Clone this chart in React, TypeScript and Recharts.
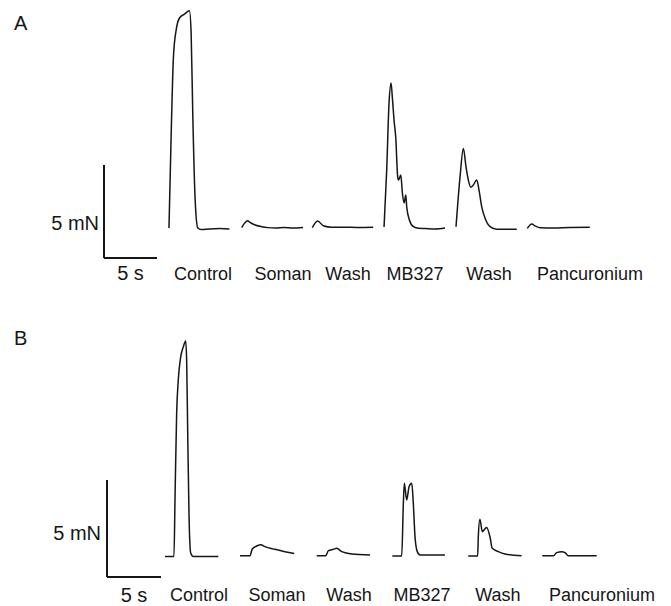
import { LineChart, Line, XAxis, YAxis, ReferenceLine } from "recharts";

const FONT = "'Liberation Sans', Arial, Helvetica, sans-serif";
const INK = "#161616";

// each trace: [time in s from trace start, force in mN above baseline]
const CONTROL_A = [[0, 0], [0.21, 5.1], [0.42, 9.19], [0.68, 10.65], [0.99, 11.29], [1.46, 11.5], [1.93, 11.68], [2.09, 10.48], [2.25, 5.97], [2.47, 1.5], [2.72, 0], [3.04, -0.08], [3.82, -0.05], [4.76, -0.03], [5.7, -0.05]];
const SOMAN_A = [[0, 0.02], [0.22, 0.22], [0.57, 0.39], [0.78, 0.3], [1.1, 0.2], [1.89, 0.07], [2.48, 0.02], [3.2, 0], [4.0, 0.03], [4.8, 0], [5.79, 0.03]];
const WASH1_A = [[0, 0.02], [0.51, 0.38], [1.04, 0.12], [1.83, 0.04], [3.0, 0.04], [4.2, 0.03], [5.75, 0.04]];
const MB327_A = [[0, 0.05], [0.25, 3.12], [0.47, 6.72], [0.66, 7.8], [0.78, 7.04], [0.94, 5.81], [1.1, 4.89], [1.29, 2.74], [1.37, 2.58], [1.58, 2.85], [1.73, 1.88], [1.89, 1.34], [2.05, 1.77], [2.14, 1.13], [2.39, 0.43], [2.77, 0.07], [3.24, -0.02], [3.87, -0.03], [4.81, -0.05], [5.75, 0]];
const WASH2_A = [[0, 0.07], [0.38, 2.76], [0.69, 4.28], [0.94, 3.3], [1.16, 2.58], [1.39, 2.19], [1.63, 2.31], [1.95, 2.58], [2.17, 2.04], [2.42, 1.15], [2.74, 0.52], [3.21, 0.07], [3.84, -0.07], [5.73, -0.07]];
const PANC_A = [[0, -0.02], [0.42, 0.22], [0.73, 0.11], [1.2, 0.02], [2.5, 0], [4.0, 0.03], [5.9, 0.04]];

const CONTROL_B = [[0, 0], [0.83, 0], [0.93, 3.07], [1.08, 7.4], [1.23, 9.1], [1.45, 10.28], [1.69, 10.8], [1.92, 11.11], [2.01, 9.97], [2.1, 6.52], [2.22, 2.24], [2.38, 0.18], [2.62, 0], [4.94, 0]];
const SOMAN_B = [[0, 0.04], [0.93, 0.04], [1.14, 0.39], [1.55, 0.54], [1.94, 0.61], [2.31, 0.51], [3.24, 0.37], [4.17, 0.25], [5.03, 0.16]];
const WASH1_B = [[0, 0.04], [0.83, 0.04], [1.08, 0.3], [1.54, 0.37], [1.85, 0.42], [2.32, 0.25], [3.24, 0.13], [4.94, 0.08]];
const MB327_B = [[0, 0.03], [0.87, 0.03], [1.02, 2.74], [1.11, 3.77], [1.33, 2.91], [1.55, 3.6], [1.8, 3.77], [1.94, 2.76], [2.1, 1.02], [2.31, 0.25], [2.56, 0.08], [4.87, 0.08]];
const WASH2_B = [[0, 0.03], [0.87, 0.03], [0.93, 1.02], [1.08, 1.92], [1.3, 1.28], [1.7, 1.5], [2.01, 1.02], [2.22, 0.42], [2.78, 0.25], [3.4, 0.13], [4.94, 0.04]];
const PANC_B = [[0, 0.04], [1.02, 0.04], [1.33, 0.2], [1.79, 0.25], [2.1, 0.2], [2.41, 0.04], [5.03, 0.04]];

const LABELS = ["Control", "Soman", "Wash", "MB327", "Wash", "Pancuronium"];

// where each trace starts and where its label sits (s from the scale bar corner)
const OFFSETS_A = [6.13, 12.99, 19.65, 26.42, 33.21, 39.93];
const OFFSETS_B = [5.37, 12.31, 19.42, 26.42, 33.45, 40.31];
const LABEL_X_A = [9.34, 16.89, 23.02, 29.34, 36.32, 45.85];
const LABEL_X_B = [8.52, 15.74, 22.41, 29.17, 36.2, 45.83];

const panels = [
  {
    letter: "A", traces: [CONTROL_A, SOMAN_A, WASH1_A, MB327_A, WASH2_A, PANC_A],
    offsets: OFFSETS_A, labelX: LABEL_X_A,
    h: 300, plotBottom: 260, originX: 104, baseY: 228, pxS: 10.6, pxMN: 18.6,
    barBottom: 258, tickMargin: 7, letterY: 30, mnDy: 11.5, mnOffset: 5, sOffset: 8,
  },
  {
    letter: "B", traces: [CONTROL_B, SOMAN_B, WASH1_B, MB327_B, WASH2_B, PANC_B],
    offsets: OFFSETS_B, labelX: LABEL_X_B,
    h: 306, plotBottom: 280, originX: 107, baseY: 256.5, pxS: 10.8, pxMN: 19.4,
    barBottom: 277, tickMargin: 8.6, letterY: 45, mnDy: 4.5, mnOffset: 6, sOffset: 11,
  },
];

const W = 671;

function Panel({ p }: { p: (typeof panels)[number] }) {
  const xDomain = [-p.originX / p.pxS, (W - p.originX) / p.pxS];
  const yDomain = [-(p.plotBottom - p.baseY) / p.pxMN, p.baseY / p.pxMN];
  const barLow = -(p.barBottom - p.baseY) / p.pxMN;

  return (
    <LineChart width={W} height={p.h} margin={{ top: 0, right: 0, bottom: 0, left: 0 }}>
      <XAxis
        type="number"
        dataKey="t"
        domain={xDomain}
        allowDataOverflow
        ticks={p.labelX}
        interval={0}
        tickFormatter={(_v: number, i: number) => LABELS[i]}
        axisLine={false}
        tickLine={false}
        tickSize={0}
        tickMargin={p.tickMargin}
        height={p.h - p.plotBottom}
        tick={{ fill: INK, fontSize: 18, fontFamily: FONT }}
      />
      <YAxis hide type="number" domain={yDomain} allowDataOverflow />

      <ReferenceLine
        segment={[{ x: 0, y: barLow }, { x: 0, y: barLow + 5 }]}
        stroke={INK}
        strokeWidth={2}
        label={{ value: "5 mN", position: "left", offset: p.mnOffset, dy: p.mnDy, fill: INK, fontSize: 20, fontFamily: FONT }}
      />
      <ReferenceLine
        segment={[{ x: 0, y: barLow }, { x: 5, y: barLow }]}
        stroke={INK}
        strokeWidth={2}
        label={{ value: "5 s", position: "bottom", offset: p.sOffset, fill: INK, fontSize: 20, fontFamily: FONT }}
      />

      {p.traces.map((tr, i) => (
        <Line
          key={i}
          data={tr.map(([t, f]) => ({ t: t + p.offsets[i], f }))}
          dataKey="f"
          type="monotone"
          stroke={INK}
          strokeWidth={1.5}
          dot={false}
          activeDot={false}
          isAnimationActive={false}
        />
      ))}

      <text x={14} y={p.letterY} fontSize={20} fontFamily={FONT} fill={INK}>
        {p.letter}
      </text>
    </LineChart>
  );
}

export default function App() {
  return (
    <div style={{ position: "absolute", left: 0, top: 0, width: W, height: 606, background: "#fff" }}>
      {panels.map((p) => (
        <Panel key={p.letter} p={p} />
      ))}
    </div>
  );
}
